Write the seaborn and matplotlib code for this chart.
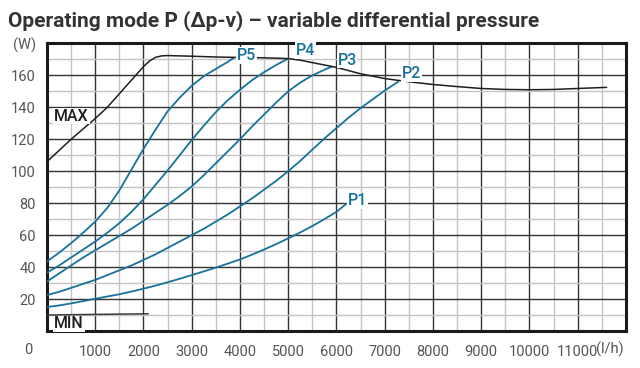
import matplotlib
matplotlib.use("Agg")
import matplotlib.pyplot as plt
import seaborn as sns
import pandas as pd
from matplotlib.ticker import MultipleLocator

sns.set_theme(style="white")
plt.rcParams["font.family"] = ["Roboto", "DejaVu Sans"]

# Flow (l/h) and power (W)
p1_flow = [0, 250, 500, 750, 1000, 1250, 1500, 1750, 2000, 2250, 2500, 2750, 3000, 3250,
           3500, 3750, 4000, 4250, 4500, 4750, 5000, 5250, 5500, 5750, 6000, 6200]
p1_power = [15, 16, 17.3, 18.7, 20.2, 21.6, 23, 24.7, 26.5, 28.4, 30.5, 32.7, 35, 37.3,
            39.7, 42.2, 44.8, 47.8, 51, 54.4, 58, 61.7, 65.7, 70, 74.6, 79.5]

p2_flow = [0, 250, 500, 750, 1000, 1250, 1500, 1750, 2000, 2250, 2500, 2750, 3000, 3250,
           3500, 3750, 4000, 4250, 4500, 4750, 5000, 5250, 5500, 5750, 6000, 6250, 6500,
           6750, 7000, 7280]
p2_power = [22.5, 24.5, 27, 29.5, 32, 35, 38, 41, 44.5, 48, 52, 56, 60, 64,
            68.5, 73, 78, 83, 88.5, 94, 100, 106.5, 113.5, 120.5, 127, 133.5, 139.5,
            145, 150.5, 156]

p3_flow = [0, 250, 500, 750, 1000, 1250, 1500, 1750, 2000, 2250, 2500, 2750, 3000, 3250,
           3500, 3750, 4000, 4250, 4500, 4750, 5000, 5250, 5500, 5750, 5900]
p3_power = [31, 36, 41, 46, 50.5, 55, 59.5, 64, 69, 74, 79, 84.5, 90.5, 97.5,
            105, 112.5, 120, 128, 135.5, 143, 150, 155.5, 160, 163.5, 165.5]

p4_flow = [0, 250, 500, 750, 1000, 1250, 1500, 1750, 2000, 2250, 2500, 2750, 3000, 3250,
           3500, 3750, 4000, 4250, 4500, 4750, 5000]
p4_power = [36.5, 41, 46, 51, 56, 61.5, 67.5, 74.5, 82.5, 91.5, 100.5, 110, 119.5, 128.5,
            137, 144.5, 151, 157, 162, 166.5, 170.5]

p5_flow = [0, 250, 500, 750, 1000, 1250, 1500, 1750, 2000, 2250, 2500, 2750, 3000, 3250,
           3500, 3750, 3870]
p5_power = [43.5, 49, 55, 61.5, 68.5, 77, 88, 101, 114, 126, 137.5, 146, 153.5, 159.5,
            164, 168.5, 171]

max_flow = [0, 250, 500, 750, 1000, 1250, 1500, 1750, 2000, 2125, 2250, 2375, 2500, 3000,
            3500, 4000, 4500, 5000, 5250, 5500, 5750, 6000, 6250, 6500, 6750, 7000, 7500,
            8000, 8500, 9000, 9500, 10000, 10500, 11000, 11600]
max_power = [106, 113, 120, 126.5, 133, 140, 148.5, 157, 165.5, 169, 171.3, 172.2, 172.4,
             172, 171.5, 171.2, 171, 170.5, 169.5, 168, 166.5, 165, 163, 161, 159.5, 158,
             156, 154.3, 153, 151.8, 151.2, 151, 151.2, 151.8, 152.5]

min_flow = [0, 1000, 2100]
min_power = [10, 10.4, 10.8]

x_ticks = [1000, 2000, 3000, 4000, 5000, 6000, 7000, 8000, 9000, 10000, 11000]
y_ticks = [20, 40, 60, 80, 100, 120, 140, 160, 180]
y_tick_labels = ["20", "40", "60", "80", "100", "120", "140", "160", "(W)"]

curve_names = ["P1", "P2", "P3", "P4", "P5"]
label_pos = {"P1": (6430, 81.5), "P2": (7560, 161), "P3": (6220, 169.5),
             "P4": (5350, 175.5), "P5": (4130, 172.5)}

blue = "#17729a"

fig = plt.figure(figsize=(6.4, 3.68), dpi=100)
ax = fig.add_axes([0.0734, 0.1005, 0.9046, 0.7815])

ax.set_xlim(0, 12000)
ax.set_ylim(0, 180)

# grid: light minor lines under dark major lines
ax.xaxis.set_minor_locator(MultipleLocator(500))
ax.yaxis.set_minor_locator(MultipleLocator(10))
ax.set_xticks(x_ticks)
ax.set_yticks(y_ticks)
ax.grid(which="minor", color="#c4c4c4", linewidth=1.0, zorder=0)
ax.grid(which="major", color="#333333", linewidth=1.0, zorder=0.5)
ax.set_axisbelow(True)

series = [(p1_flow, p1_power), (p2_flow, p2_power), (p3_flow, p3_power),
          (p4_flow, p4_power), (p5_flow, p5_power)]
for name, (fx, fy) in zip(curve_names, series):
    df = pd.DataFrame({"flow": fx, "power": fy})
    sns.lineplot(data=df, x="flow", y="power", ax=ax, color=blue, linewidth=1.3,
                 sort=False, zorder=3)
    lx, ly = label_pos[name]
    ax.text(lx, ly, name, color=blue, fontsize=11.5, fontweight="medium",
            ha="center", va="center", zorder=5,
            bbox=dict(facecolor="white", edgecolor="none", pad=0.6))

sns.lineplot(x=max_flow, y=max_power, ax=ax, color="#1e1e1e", linewidth=1.1, zorder=3)
sns.lineplot(x=min_flow, y=min_power, ax=ax, color="#3a3a3a", linewidth=1.1, zorder=3)

ax.text(150, 134.5, "MAX", color="#1e1e1e", fontsize=11.5, fontweight="medium",
        ha="left", va="center", zorder=5,
        bbox=dict(facecolor="white", edgecolor="none", pad=0.6))
ax.text(150, 4.5, "MIN", color="#1e1e1e", fontsize=11.5, fontweight="medium",
        ha="left", va="center", zorder=5,
        bbox=dict(facecolor="white", edgecolor="none", pad=0.6))

ax.set_xlabel("")
ax.set_ylabel("")
ax.set_yticklabels(y_tick_labels)
ax.tick_params(axis="both", which="both", length=0, labelsize=10.5, labelcolor="#555555")
ax.tick_params(axis="x", pad=10)
ax.tick_params(axis="y", pad=8)

# corner zero and flow unit
ax.text(-0.025, -0.065, "0", transform=ax.transAxes, ha="right", va="center",
        fontsize=10.5, color="#555555")
ax.text(0.972, -0.065, "(l/h)", transform=ax.transAxes, ha="center", va="center",
        fontsize=10.5, color="#555555")

for s in ax.spines.values():
    s.set_visible(True)
    s.set_color("#1a1a1a")
    s.set_linewidth(2.2)

fig.text(0.0125, 0.945, "Operating mode P (\u0394p-v) \u2013 variable differential pressure",
         fontsize=15, fontweight="bold", color="#333333", ha="left", va="center")

fig.savefig("out.png", dpi=100)
